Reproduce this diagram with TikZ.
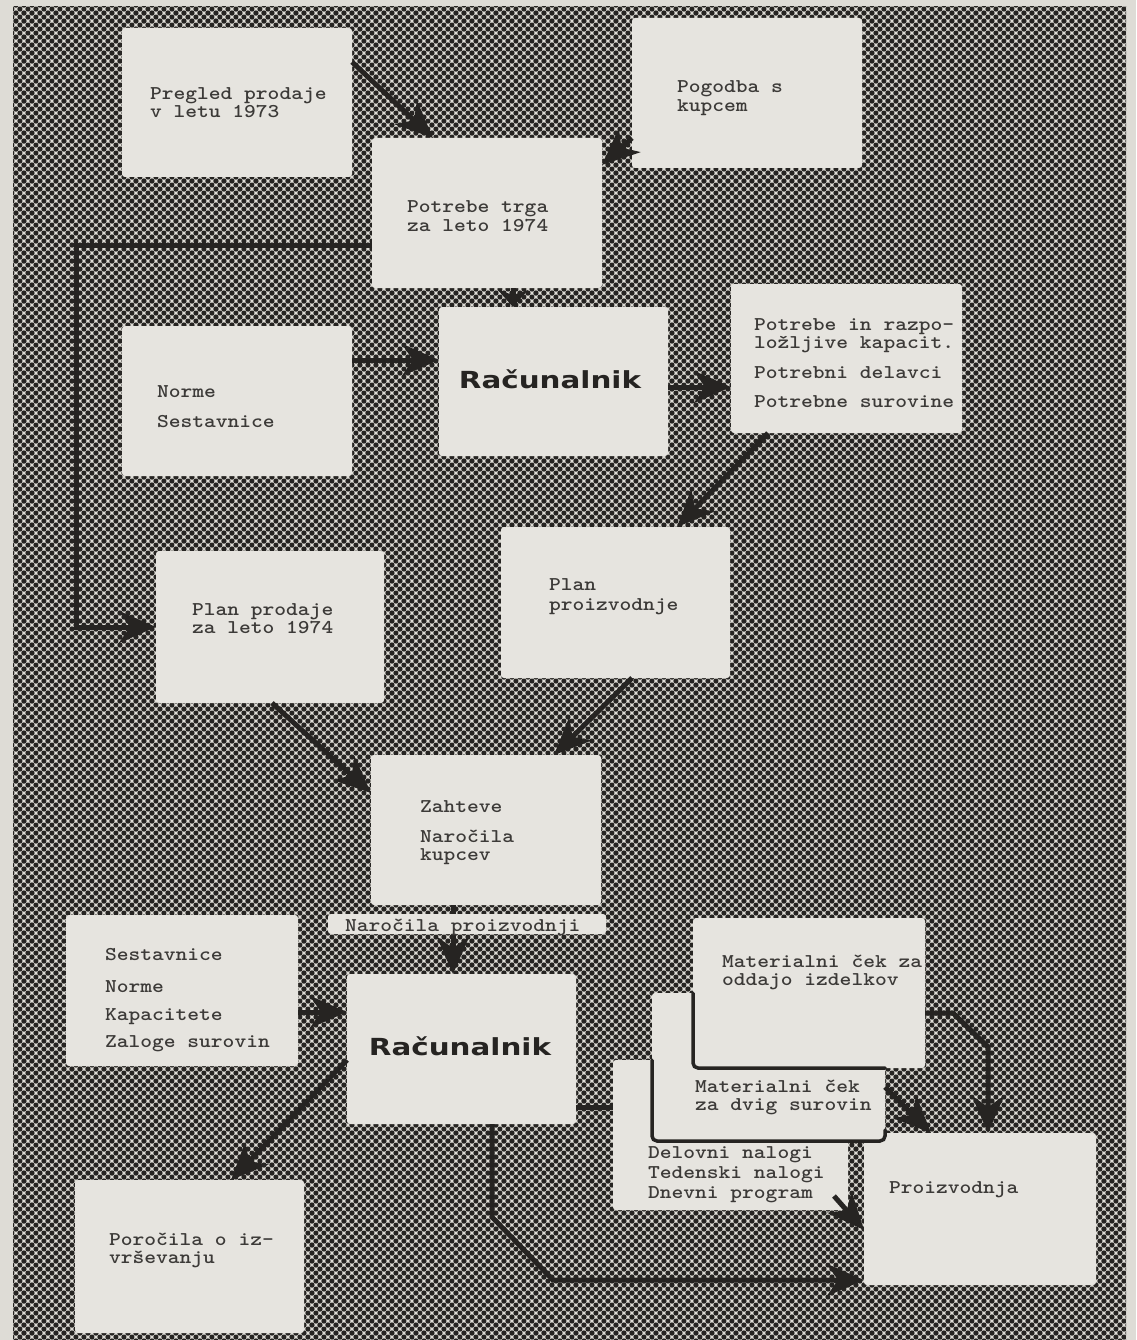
\documentclass[tikz,border=0pt]{standalone}
\usepackage{fontspec}
\usepackage{graphicx}
\usetikzlibrary{arrows.meta,patterns,calc}
\newfontfamily\racfont{DejaVu Sans}
\definecolor{paper}{HTML}{DEDCD6}
\definecolor{sheet}{HTML}{E6E4DF}
\definecolor{ink}{HTML}{262422}
\newcommand\twx[1]{\scalebox{1.15}[1]{#1}}
\newcommand\racx[1]{\scalebox{1.25}[1]{#1}}
\pgfdeclarepatternformonly{halftone}{\pgfqpoint{0pt}{0pt}}{\pgfqpoint{8.4pt}{8.4pt}}{\pgfqpoint{8.4pt}{8.4pt}}{%
  \pgfpathcircle{\pgfqpoint{0pt}{0pt}}{2.75pt}%
  \pgfpathcircle{\pgfqpoint{8.4pt}{0pt}}{2.75pt}%
  \pgfpathcircle{\pgfqpoint{0pt}{8.4pt}}{2.75pt}%
  \pgfpathcircle{\pgfqpoint{8.4pt}{8.4pt}}{2.75pt}%
  \pgfpathcircle{\pgfqpoint{4.2pt}{4.2pt}}{2.75pt}%
  \pgfusepath{fill}}
\begin{document}
\begin{tikzpicture}[x=1pt,y=-1pt,
  box/.style={fill=sheet, rounded corners=3pt, anchor=north west, inner sep=0pt, outer sep=0pt},
  txt/.style={anchor=base west, inner sep=0pt, outer sep=0pt, font=\ttfamily\bfseries\fontsize{19.5}{18}\selectfont, text=ink!90},
  rac/.style={anchor=base, inner sep=0pt, outer sep=0pt, font=\racfont\bfseries\fontsize{23.5}{24}\selectfont, text=ink},
  arr/.style={draw=ink, line width=5pt, -{Stealth[length=37pt,width=32pt,inset=11pt]}},
  sarr/.style={draw=ink, line width=5pt, -{Stealth[length=17pt,width=30pt,inset=5pt]}},
  plain/.style={draw=ink, line width=5pt},
  sheetline/.style={draw=ink, line width=3.5pt, rounded corners=5pt, line cap=round}]
\useasboundingbox (0,0) rectangle (1136,1340);
\fill[paper] (0,0) rectangle (1136,1340);
\fill[pattern=halftone, pattern color=ink] (13,7) rectangle (1126,1340);

% boxes
\node[box, minimum width=230pt, minimum height=149pt] (pregled) at (122,28) {};
\node[box, minimum width=230pt, minimum height=150pt] (pogodba) at (632,18) {};
\node[box, minimum width=230pt, minimum height=150pt] (potrebe) at (372,138) {};
\node[box, minimum width=230pt, minimum height=150pt] (norme) at (122,326) {};
\node[box, minimum width=229pt, minimum height=149pt] (rac1) at (439,307) {};
\node[box, minimum width=231pt, minimum height=149pt] (potin) at (731,284) {};
\node[box, minimum width=229pt, minimum height=151pt] (planpro) at (501,527) {};
\node[box, minimum width=228pt, minimum height=152pt] (planprod) at (156,551) {};
\node[box, minimum width=230pt, minimum height=150pt] (zahteve) at (371,755) {};
\node[box, minimum width=232pt, minimum height=151pt] (sestav) at (66,915) {};
\node[box, minimum width=229pt, minimum height=150pt] (rac2) at (347,974) {};
\node[box, minimum width=229pt, minimum height=153pt] (porocila) at (75,1180) {};
\node[box, minimum width=235pt, minimum height=150pt] (delovni) at (613,1060) {};
\node[box, minimum width=233pt, minimum height=148pt] (dvig) at (652,993) {};
\node[box, minimum width=232pt, minimum height=150pt] (oddajo) at (693,918) {};
\node[box, minimum width=232pt, minimum height=152pt] (proizv) at (864,1133) {};

% sheet edges
\draw[sheetline] ([yshift=-75pt]oddajo.north west) -- (oddajo.south west) -- (oddajo.south west -| dvig.east);
\draw[sheetline] (delovni.north west -| dvig.west) -- (dvig.south west) -- (dvig.south east) -- ([yshift=11pt]dvig.south east);

% texts
\node[txt] (t1a) at (150,100) {\twx{Pregled prodaje}};
\node[txt] (t1b) at (150,118) {\twx{v letu 1973}};
\node[txt] (t2a) at (677,93) {\twx{Pogodba s}};
\node[txt] (t2b) at (677,112) {\twx{kupcem}};
\node[txt] (t3a) at (407,213) {\twx{Potrebe trga}};
\node[txt] (t3b) at (407,232) {\twx{za leto 1974}};
\node[txt] (t4a) at (157,397) {\twx{Norme}};
\node[txt] (t4b) at (157,427) {\twx{Sestavnice}};
\node[rac] (t5) at (550,388) {\racx{Računalnik}};
\node[txt] (t6a) at (754,330) {\twx{Potrebe in razpo-}};
\node[txt] (t6b) at (754,348) {\twx{ložljive kapacit.}};
\node[txt] (t6c) at (754,378) {\twx{Potrebni delavci}};
\node[txt] (t6d) at (754,407) {\twx{Potrebne surovine}};
\node[txt] (t7a) at (549,590) {\twx{Plan}};
\node[txt] (t7b) at (549,610) {\twx{proizvodnje}};
\node[txt] (t8a) at (192,615) {\twx{Plan prodaje}};
\node[txt] (t8b) at (192,633) {\twx{za leto 1974}};
\node[txt] (t9a) at (420,812) {\twx{Zahteve}};
\node[txt] (t9b) at (420,842) {\twx{Naročila}};
\node[txt] (t9c) at (420,860) {\twx{kupcev}};
\node[txt] (t10a) at (105,960) {\twx{Sestavnice}};
\node[txt] (t10b) at (105,992) {\twx{Norme}};
\node[txt] (t10c) at (105,1020) {\twx{Kapacitete}};
\node[txt] (t10d) at (105,1047) {\twx{Zaloge surovin}};
\node[rac] (t11) at (460,1055) {\racx{Računalnik}};
\node[txt] (t12a) at (109,1245) {\twx{Poročila o iz-}};
\node[txt] (t12b) at (109,1263) {\twx{vrševanju}};
\node[txt] (t13a) at (722,967) {\twx{Materialni ček za}};
\node[txt] (t13b) at (722,985) {\twx{oddajo izdelkov}};
\node[txt] (t14a) at (695,1092) {\twx{Materialni ček}};
\node[txt] (t14b) at (695,1110) {\twx{za dvig surovin}};
\node[txt] (t15a) at (648,1158) {\twx{Delovni nalogi}};
\node[txt] (t15b) at (648,1178) {\twx{Tedenski nalogi}};
\node[txt] (t15c) at (648,1198) {\twx{Dnevni program}};
\node[txt] (t16) at (889,1193) {\twx{Proizvodnja}};

% connectors
\draw[arr] ([yshift=-34pt]pregled.north east) -- ([xshift=61pt]potrebe.north west);
\draw[arr] ([yshift=-120pt]pogodba.north west) -- ([yshift=-27pt]potrebe.north east);
\draw[sarr] ([xshift=26pt]potrebe.south) -- ([xshift=26pt]potrebe.south |- rac1.north);
\draw[arr] ([yshift=-108pt]potrebe.north west) -- ++(-296,0) |- (planprod.west);
\draw[arr] ([yshift=21.5pt]rac1.west -| norme.east) -- ([yshift=21.5pt]rac1.west);
\draw[arr] ([yshift=-5.5pt]rac1.east) -- ([yshift=-5.5pt]rac1.east -| potin.west);
\draw[arr] ([xshift=37pt]potin.south west) -- ([xshift=-53pt]planpro.north east);
\draw[arr] ([xshift=116pt]planprod.south west) -- ([yshift=-38pt]zahteve.north west);
\draw[arr] ([xshift=131pt]planpro.south west) -- ([xshift=183pt]zahteve.north west);
\draw[arr] ([xshift=82pt]zahteve.south west) -- ([xshift=82pt]zahteve.south west |- rac2.north);
\draw[arr] ([yshift=-38pt]rac2.north west -| sestav.east) -- ([yshift=-38pt]rac2.north west);
\draw[arr] ([yshift=-86pt]rac2.north west) -- ([xshift=156pt]porocila.north west);
\draw[plain] ([yshift=-133pt]rac2.north east) -- ([yshift=-133pt]rac2.north east -| delovni.west);
\draw[arr] ([xshift=145pt]rac2.south west) -- ++(0,93) -- ++(61,63) coordinate (b1) -- (b1 -| proizv.west);
\draw[arr] ([yshift=-95pt]oddajo.north east) -- ++(28,0) -- ++(35,34) coordinate (o1) -- (o1 |- proizv.north);
\draw[arr] ([yshift=-94pt]dvig.north east) -- ([xshift=67pt]proizv.north west);
\draw[arr] ([shift={(-14pt,14pt)}]delovni.south east) -- ([yshift=-97pt]proizv.north west);

% label over the connector
\node[box, minimum width=278pt, minimum height=20pt] (label) at (328,914) {};
\node[txt] (t17) at (345,931) {\twx{Naročila proizvodnji}};
\end{tikzpicture}
\end{document}
